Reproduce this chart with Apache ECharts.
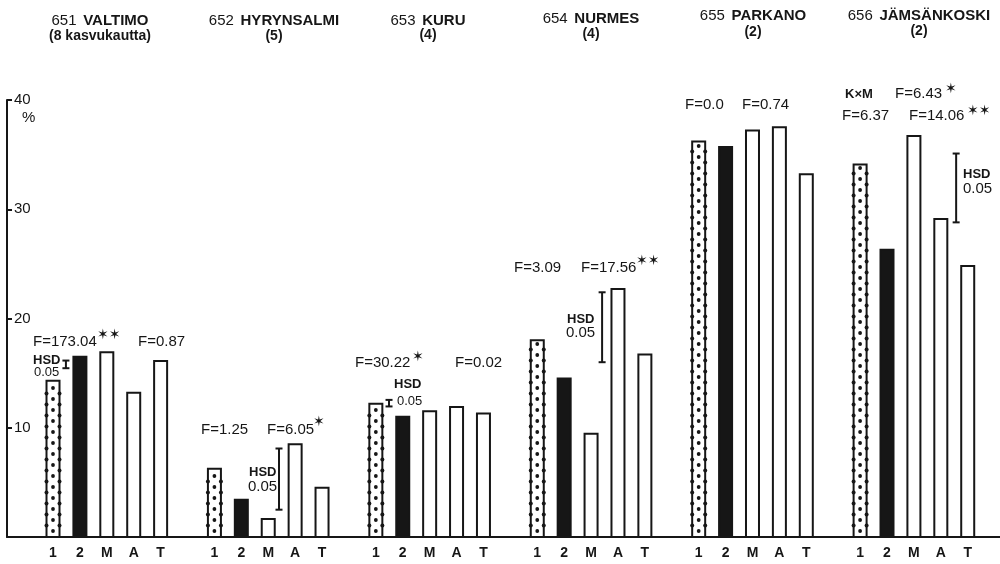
<!DOCTYPE html>
<html>
<head>
<meta charset="utf-8">
<script src="https://cdn.jsdelivr.net/npm/echarts@6/dist/echarts.min.js"></script>
<style>
  html, body { margin: 0; padding: 0; background: #fff; }
  #chart { width: 1000px; height: 564px; }
</style>
</head>
<body>
<div id="chart"></div>
<script>
// Bar kinds within each site: 1, 2, M, A, T
const barLabels = ['1', '2', 'M', 'A', 'T'];

// Sites
const siteNumbers = ['651', '652', '653', '654', '655', '656'];
const siteNames = ['VALTIMO', 'HYRYNSALMI', 'KURU', 'NURMES', 'PARKANO', 'JÄMSÄNKOSKI'];
const siteNotes = ['(8 kasvukautta)', '(5)', '(4)', '(4)', '(2)', '(2)'];

// Percent values per site, in the order of barLabels
const valtimo     = [14.3, 16.5, 16.9, 13.2, 16.1];
const hyrynsalmi  = [6.25, 3.4, 1.65, 8.5, 4.5];
const kuru        = [12.2, 11.0, 11.5, 11.9, 11.3];
const nurmes      = [18.0, 14.5, 9.45, 22.7, 16.7];
const parkano     = [36.2, 35.7, 37.2, 37.5, 33.2];
const jamsankoski = [34.1, 26.3, 36.7, 29.1, 24.8];

// HSD 0.05 ranges (slot on the x scale, lower and upper end in %)
const hsdSlot = [0.48, 8.4, 12.49, 20.41, 33.57];
const hsdLow  = [15.45, 2.5, 11.95, 16.0, 28.8];
const hsdHigh = [16.15, 8.1, 12.55, 22.4, 35.1];

// Y axis ticks
const yTicks = [10, 20, 30, 40];

const siteValues = [valtimo, hyrynsalmi, kuru, nurmes, parkano, jamsankoski];
const SLOTS_PER_SITE = 6;
const INK = '#161616';
const FONT = '"Liberation Sans", Arial, Helvetica, sans-serif';

const barData = [];
siteValues.forEach((vals, g) => {
  vals.forEach((v, k) => barData.push([g * SLOTS_PER_SITE + k, v, k]));
});
const hsdData = hsdSlot.map((s, i) => [s, hsdLow[i], hsdHigh[i]]);

function renderBar(params, api) {
  const x = api.value(0), v = api.value(1), kind = api.value(2);
  const top = api.coord([x, v]);
  const base = api.coord([x, 0]);
  const w = 13, cx = top[0];
  const children = [{
    type: 'rect',
    shape: { x: cx - w / 2, y: top[1], width: w, height: base[1] - top[1] },
    style: { fill: kind === 1 ? INK : '#fff', stroke: INK, lineWidth: 2 }
  }];
  if (kind === 0) {
    // dotted fill: centre column plus half-step dots on both edges
    for (let y = base[1] - 6; y > top[1] + 3; y -= 11) {
      children.push({ type: 'circle', shape: { cx: cx, cy: y, r: 1.9 }, style: { fill: INK } });
    }
    for (let y = base[1] - 11.5; y > top[1] + 3; y -= 11) {
      children.push({ type: 'circle', shape: { cx: cx - 6.5, cy: y, r: 2 }, style: { fill: INK } });
      children.push({ type: 'circle', shape: { cx: cx + 6.5, cy: y, r: 2 }, style: { fill: INK } });
    }
  }
  children.push({
    type: 'text',
    style: {
      text: barLabels[kind], x: cx, y: base[1] + 16,
      align: 'center', verticalAlign: 'middle',
      textAlign: 'center', textVerticalAlign: 'middle',
      font: 'bold 14px ' + FONT, fill: INK
    }
  });
  return { type: 'group', children: children };
}

function renderHsd(params, api) {
  const lo = api.coord([api.value(0), api.value(1)]);
  const hi = api.coord([api.value(0), api.value(2)]);
  const cap = 3.5;
  const st = { stroke: INK, lineWidth: 2 };
  return {
    type: 'group',
    children: [
      { type: 'line', shape: { x1: lo[0], y1: lo[1], x2: hi[0], y2: hi[1] }, style: st },
      { type: 'line', shape: { x1: lo[0] - cap, y1: lo[1], x2: lo[0] + cap, y2: lo[1] }, style: st },
      { type: 'line', shape: { x1: hi[0] - cap, y1: hi[1], x2: hi[0] + cap, y2: hi[1] }, style: st }
    ]
  };
}

// Site headings
const headingLayout = [[100, 21, 36], [274, 21, 36], [428, 21, 35], [591, 19, 34], [753, 16, 32], [919, 16, 31]];
const graphics = [];
siteNames.forEach((name, i) => {
  const [cx, y1, y2] = headingLayout[i];
  graphics.push({
    type: 'text', x: cx, y: y1,
    style: {
      text: '{n|' + siteNumbers[i] + '}  {b|' + name + '}',
      align: 'center', verticalAlign: 'middle', textAlign: 'center', textVerticalAlign: 'middle',
      fill: INK,
      rich: {
        n: { font: '15px ' + FONT, fill: INK },
        b: { font: 'bold 15px ' + FONT, fill: INK }
      }
    }
  });
  graphics.push({
    type: 'text', x: cx, y: y2,
    style: {
      text: siteNotes[i], font: 'bold 14px ' + FONT, fill: INK,
      align: 'center', verticalAlign: 'middle', textAlign: 'center', textVerticalAlign: 'middle'
    }
  });
});

// Test statistics and HSD captions
const notes = [
  ['F=173.04', 33, 342, 'r'], ['✶✶', 97, 335, 's'], ['HSD', 33, 360, 'b'], ['0.05', 34, 372, 'm'], ['F=0.87', 138, 342, 'r'],
  ['F=1.25', 201, 430, 'r'], ['F=6.05', 267, 430, 'r'], ['✶', 313, 422, 's'], ['HSD', 249, 472, 'b'], ['0.05', 248, 487, 'r'],
  ['F=30.22', 355, 363, 'r'], ['✶', 412, 357, 's'], ['HSD', 394, 384, 'b'], ['0.05', 397, 401, 'm'], ['F=0.02', 455, 363, 'r'],
  ['F=3.09', 514, 268, 'r'], ['F=17.56', 581, 268, 'r'], ['✶✶', 636, 261, 's'], ['HSD', 567, 319, 'b'], ['0.05', 566, 333, 'r'],
  ['F=0.0', 685, 105, 'r'], ['F=0.74', 742, 105, 'r'],
  ['K×M', 845, 94, 'b'], ['F=6.37', 842, 116, 'r'], ['F=6.43', 895, 94, 'r'], ['✶', 945, 89, 's'],
  ['F=14.06', 909, 116, 'r'], ['✶✶', 967, 111, 's'], ['HSD', 963, 174, 'b'], ['0.05', 963, 189, 'r'],
  ['%', 22, 118, 'r']
];
const noteFonts = {
  r: '15px ' + FONT,
  m: '13px ' + FONT,
  b: 'bold 13px ' + FONT,
  s: '14px "DejaVu Sans", sans-serif'
};
notes.forEach(([t, x, y, k]) => {
  graphics.push({
    type: 'text', x: x, y: y,
    style: { text: t, font: noteFonts[k], fill: INK, align: 'left', verticalAlign: 'middle', textAlign: 'left', textVerticalAlign: 'middle' }
  });
});

const chart = echarts.init(document.getElementById('chart'), null, { renderer: 'canvas' });
chart.setOption({
  backgroundColor: '#fff',
  animation: false,
  grid: { left: 7, right: 0, top: 100, bottom: 27 },
  xAxis: {
    type: 'value', min: -1.71, max: 35.2,
    axisLine: { show: true, onZero: false, lineStyle: { color: INK, width: 2 } },
    axisTick: { show: false }, axisLabel: { show: false }, splitLine: { show: false }
  },
  yAxis: {
    type: 'value', min: 0, max: 40, interval: 10,
    axisLine: { show: true, onZero: false, lineStyle: { color: INK, width: 2 } },
    axisTick: { show: true, inside: true, length: 5, lineStyle: { color: INK, width: 2 } },
    axisLabel: {
      inside: true, margin: 7, color: INK, fontSize: 15, fontFamily: FONT,
      formatter: v => (yTicks.indexOf(v) >= 0 ? String(v) : '')
    },
    splitLine: { show: false }
  },
  series: [
    { type: 'custom', renderItem: renderBar, data: barData, clip: false },
    { type: 'custom', renderItem: renderHsd, data: hsdData, clip: false }
  ],
  graphic: graphics
});
</script>
</body>
</html>
